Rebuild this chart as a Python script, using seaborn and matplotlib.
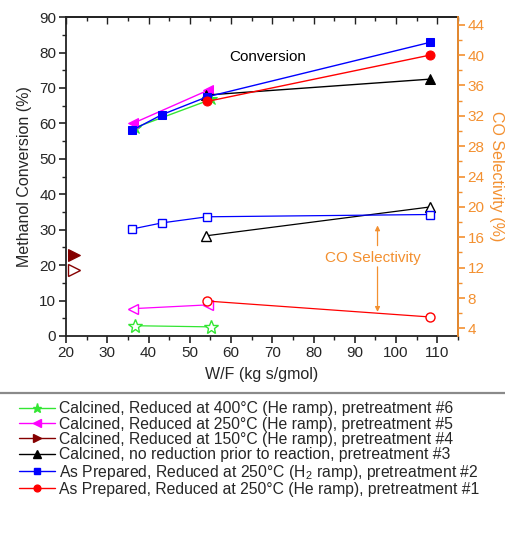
import matplotlib
matplotlib.use("Agg")
import matplotlib.pyplot as plt
from matplotlib.lines import Line2D
from matplotlib.ticker import MultipleLocator
import seaborn as sns

# ── Data ─────────────────────────────────────────────────────────────────────
# Methanol conversion (%) – left axis, filled markers
wf_p1 = [54.2, 108.3]
conv_p1 = [66.2, 79.3]
wf_p2 = [36.1, 43.3, 54.2, 108.3]
conv_p2 = [58.1, 62.5, 67.5, 82.9]
wf_p3 = [54.0, 108.3]
conv_p3 = [68.0, 72.5]
wf_p4 = [21.9]
conv_p4 = [22.9]
wf_p5 = [36.2, 54.5]
conv_p5 = [60.0, 69.4]
wf_p6 = [36.7, 55.2]
conv_p6 = [58.8, 66.8]

# CO selectivity (%) – right axis, open markers
sel_wf_p1 = [54.2, 108.3]
sel_p1 = [7.6, 5.5]
sel_wf_p2 = [36.1, 43.3, 54.2, 108.3]
sel_p2 = [17.1, 17.9, 18.7, 19.0]
sel_wf_p3 = [54.0, 108.3]
sel_p3 = [16.2, 20.0]
sel_wf_p4 = [21.9]
sel_p4 = [11.7]
sel_wf_p5 = [36.2, 54.5]
sel_p5 = [6.6, 7.1]
sel_wf_p6 = [36.7, 55.2]
sel_p6 = [4.35, 4.2]

labels = [
    "Calcined, Reduced at 400°C (He ramp), pretreatment #6",
    "Calcined, Reduced at 250°C (He ramp), pretreatment #5",
    "Calcined, Reduced at 150°C (He ramp), pretreatment #4",
    "Calcined, no reduction prior to reaction, pretreatment #3",
    "As Prepared, Reduced at 250°C (H$_2$ ramp), pretreatment #2",
    "As Prepared, Reduced at 250°C (He ramp), pretreatment #1",
]

ORANGE = "#F39030"
GREEN = "#33E633"
MAGENTA = "#FF00FF"
DARKRED = "#850000"
BLACK = "#000000"
BLUE = "#0000FF"
RED = "#FF0000"

sns.set_theme(style="ticks")
plt.rcParams["font.family"] = ["Liberation Sans", "DejaVu Sans"]
plt.rcParams["mathtext.fontset"] = "custom"
plt.rcParams["mathtext.rm"] = "Liberation Sans"
plt.rcParams["mathtext.it"] = "Liberation Sans:italic"

fig = plt.figure(figsize=(5.05, 5.35), dpi=100)
ax = fig.add_axes([0.1307, 0.372, 0.7762, 0.596])
ax2 = ax.twinx()

# ── Conversion series (filled) ───────────────────────────────────────────────
series_conv = [
    (wf_p6, conv_p6, GREEN, "*", 9),
    (wf_p5, conv_p5, MAGENTA, "<", 7),
    (wf_p4, conv_p4, DARKRED, ">", 8),
    (wf_p3, conv_p3, BLACK, "^", 7),
    (wf_p2, conv_p2, BLUE, "s", 6),
    (wf_p1, conv_p1, RED, "o", 6.5),
]
for x, y, c, m, ms in series_conv:
    sns.lineplot(x=x, y=y, ax=ax, color=c, marker=m, markersize=ms,
                 markeredgecolor=c, markerfacecolor=c, linewidth=1.0,
                 sort=False, zorder=3)

# ── Selectivity series (open) ────────────────────────────────────────────────
series_sel = [
    (sel_wf_p6, sel_p6, GREEN, "*", 10),
    (sel_wf_p5, sel_p5, MAGENTA, "<", 7),
    (sel_wf_p4, sel_p4, DARKRED, ">", 8.5),
    (sel_wf_p3, sel_p3, BLACK, "^", 7),
    (sel_wf_p2, sel_p2, BLUE, "s", 6),
    (sel_wf_p1, sel_p1, RED, "o", 6.5),
]
for x, y, c, m, ms in series_sel:
    sns.lineplot(x=x, y=y, ax=ax2, color=c, marker=m, markersize=ms,
                 markeredgecolor=c, markerfacecolor="white",
                 markeredgewidth=1.0, linewidth=0.9, sort=False, zorder=3)

# ── Axes styling ─────────────────────────────────────────────────────────────
ax.set_xlim(20, 115)
ax.set_ylim(0, 90)
ax2.set_ylim(3, 45)

ax.xaxis.set_major_locator(MultipleLocator(10))
ax.xaxis.set_minor_locator(MultipleLocator(5))
ax.yaxis.set_major_locator(MultipleLocator(10))
ax.yaxis.set_minor_locator(MultipleLocator(5))
ax2.yaxis.set_major_locator(MultipleLocator(4))
ax2.yaxis.set_minor_locator(MultipleLocator(2))
ax.set_xticks(range(20, 111, 10))

ax.tick_params(axis="both", which="major", direction="out", length=5,
               width=1.2, labelsize=11, color="#222222", pad=2)
ax.tick_params(axis="both", which="minor", direction="out", length=3,
               width=1.0, color="#222222")
ax2.tick_params(axis="y", which="major", direction="out", length=5,
                width=1.2, labelsize=11, color=ORANGE, labelcolor=ORANGE, pad=2)
ax2.tick_params(axis="y", which="minor", direction="out", length=3,
                width=1.0, color=ORANGE)

# top mirrored ticks point inward
sec = ax.secondary_xaxis("top")
sec.xaxis.set_major_locator(MultipleLocator(10))
sec.xaxis.set_minor_locator(MultipleLocator(5))
sec.tick_params(axis="x", which="major", direction="in", length=5,
                width=1.0, labeltop=False, color="#222222")
sec.tick_params(axis="x", which="minor", direction="in", length=3,
                width=1.0, color="#222222")
sec.spines["top"].set_linewidth(1.2)
ax.tick_params(axis="x", which="both", top=False)

for side in ["left", "bottom", "top"]:
    ax.spines[side].set_color("#222222")
    ax.spines[side].set_linewidth(1.3)
ax2.spines["right"].set_color(ORANGE)
ax2.spines["right"].set_linewidth(1.3)
for side in ["left", "bottom", "top"]:
    ax2.spines[side].set_visible(False)

ax.set_xlabel("W/F (kg s/gmol)", fontsize=11.5, labelpad=5)
ax.set_ylabel("Methanol Conversion (%)", fontsize=11.5, labelpad=5)
ax2.set_ylabel("CO Selectivity (%)", fontsize=11.5, color=ORANGE,
               rotation=270, labelpad=14)

# ── Annotations ──────────────────────────────────────────────────────────────
ax.text(69.0, 78.7, "Conversion", fontsize=11, ha="center", va="center",
        color="black")
ax.text(94.4, 21.9, "CO Selectivity", fontsize=11, ha="center",
        va="center", color=ORANGE)
arrow = dict(arrowstyle="-|>", color=ORANGE, lw=0.9, mutation_scale=7,
             shrinkA=0, shrinkB=0)
ax.annotate("", xy=(95.5, 31.2), xytext=(95.5, 25.5), arrowprops=arrow)
ax.annotate("", xy=(95.5, 6.8), xytext=(95.5, 19.5), arrowprops=arrow)

# ── Separator and legend ─────────────────────────────────────────────────────
fig.add_artist(Line2D([0, 1], [0.2654, 0.2654], transform=fig.transFigure,
                      color="#8a8a8a", linewidth=1.6))

handles = []
for (_, _, c, m, ms) in series_conv:
    handles.append(Line2D([], [], color=c, marker=m,
                          markersize=ms * 0.75, markerfacecolor=c,
                          markeredgecolor=c, linewidth=1.0))
fig.legend(handles, labels, loc="upper left", bbox_to_anchor=(0.037, 0.250),
           frameon=False, fontsize=11.3, labelspacing=0.02,
           handlelength=2.3, handletextpad=0.25, borderpad=0,
           borderaxespad=0)

fig.savefig("out.png", dpi=100)
